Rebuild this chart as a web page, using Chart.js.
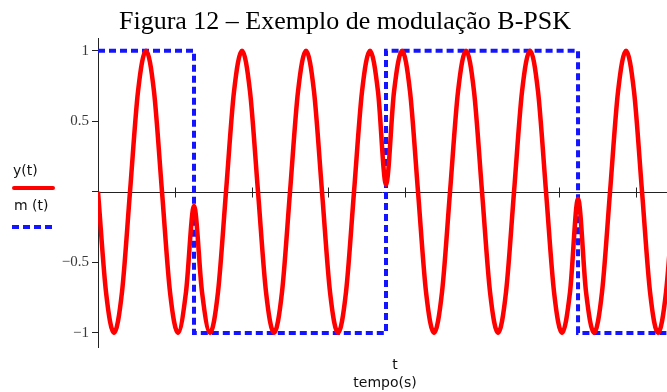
<!DOCTYPE html>
<html>
<head>
<meta charset="utf-8">
<script src="https://cdn.jsdelivr.net/npm/chart.js@4/dist/chart.umd.min.js"></script>
<style>
  html, body { margin: 0; padding: 0; background: #ffffff; }
  #wrap { width: 667px; height: 392px; position: relative; }
  canvas { display: block; }
</style>
</head>
<body>
<div id="wrap"><canvas id="grafico" width="667" height="392"></canvas></div>
<script>
// Tempo em períodos da portadora (amostras a cada 1/8 de período)
const tempo = [
  0.000, 0.125, 0.250, 0.375, 0.500, 0.625, 0.750, 0.875,
  1.000, 1.125, 1.250, 1.375, 1.500, 1.625, 1.750, 1.875,
  2.000, 2.125, 2.250, 2.375, 2.500, 2.625, 2.750, 2.875,
  3.000, 3.125, 3.250, 3.375, 3.500, 3.625, 3.750, 3.875,
  4.000, 4.125, 4.250, 4.375, 4.500, 4.625, 4.750, 4.875,
  5.000, 5.125, 5.250, 5.375, 5.500, 5.625, 5.750, 5.875,
  6.000, 6.125, 6.250, 6.375, 6.500, 6.625, 6.750, 6.875,
  7.000, 7.125, 7.250, 7.375, 7.500, 7.625, 7.750, 7.875,
  8.000, 8.125, 8.250, 8.375, 8.500, 8.625, 8.750, 8.875,
  9.000
];

// Sinal modulado y(t)
const sinalY = [
  0, -0.71, -1, -0.71, 0, 0.71, 1, 0.71,
  0, -0.71, -1, -0.71, -0.1, -0.71, -1, -0.71,
  0, 0.71, 1, 0.71, 0, -0.71, -1, -0.71,
  0, 0.71, 1, 0.71, 0, -0.71, -1, -0.71,
  0, 0.71, 1, 0.71, 0.05, 0.71, 1, 0.71,
  0, -0.71, -1, -0.71, 0, 0.71, 1, 0.71,
  0, -0.71, -1, -0.71, 0, 0.71, 1, 0.71,
  0, -0.71, -1, -0.71, -0.05, -0.71, -1, -0.71,
  0, 0.71, 1, 0.71, 0, -0.71, -1, -0.71,
  0
];

// Sinal binário m(t): instantes de transição e níveis
const tempoM = [0, 1.5, 4.5, 7.5, 9.0];
const sinalM = [1, -1, 1, -1, -1];

// Marcas dos eixos
const marcasX = [1.2, 2.4, 3.6, 4.8, 6.0, 7.2, 8.4];
const marcasY = [-1, -0.5, 0, 0.5, 1];
const rotulosY = ['\u22121', '\u22120.5', '', '0.5', '1'];

const limitesX = [0, 8.89];
const limitesY = [-1.1, 1.09];

const titulo = 'Figura 12 \u2013 Exemplo de modulação B-PSK';
const tituloEixoX = ['t', 'tempo(s)'];
const nomesSeries = ['y(t)', 'm (t)'];

const corY = '#ff0000';
const corM = '#1414ff';
const corEixo = '#222222';

const pontosY = tempo.map((t, i) => ({ x: t, y: sinalY[i] }));
const pontosM = tempoM.map((t, i) => ({ x: t, y: sinalM[i] }));

// Eixo horizontal em y = 0 com marcas cruzando a linha
const eixoZero = {
  id: 'eixoZero',
  beforeDatasetsDraw(chart) {
    const { ctx, chartArea, scales } = chart;
    const y0 = Math.round(scales.y.getPixelForValue(0)) + 0.5;
    ctx.save();
    ctx.strokeStyle = corEixo;
    ctx.lineWidth = 1;
    ctx.beginPath();
    ctx.moveTo(chartArea.left, y0);
    ctx.lineTo(chartArea.right, y0);
    marcasX.forEach(v => {
      const x = Math.round(scales.x.getPixelForValue(v)) + 0.5;
      ctx.moveTo(x, y0 - 5);
      ctx.lineTo(x, y0 + 5);
    });
    ctx.stroke();
    ctx.restore();
  }
};

// Título, legenda e nome do eixo horizontal
const anotacoes = {
  id: 'anotacoes',
  afterDraw(chart) {
    const { ctx } = chart;
    const ds = chart.data.datasets;
    ctx.save();
    ctx.fillStyle = '#000000';
    ctx.font = '26px "Liberation Serif", "Times New Roman", serif';
    ctx.textAlign = 'center';
    ctx.textBaseline = 'alphabetic';
    ctx.fillText(titulo, 345, 29);

    ctx.font = '14px "DejaVu Sans", Arial, sans-serif';
    ctx.fillStyle = '#111111';
    ctx.textAlign = 'left';
    ctx.textBaseline = 'middle';
    ctx.fillText(nomesSeries[0], 13, 171);
    ctx.fillText(nomesSeries[1], 14, 206);

    ctx.lineCap = 'round';
    ctx.strokeStyle = ds[0].borderColor;
    ctx.lineWidth = 4;
    ctx.beginPath();
    ctx.moveTo(14, 188);
    ctx.lineTo(53, 188);
    ctx.stroke();

    ctx.lineCap = 'butt';
    ctx.strokeStyle = ds[1].borderColor;
    ctx.setLineDash(ds[1].borderDash);
    ctx.beginPath();
    ctx.moveTo(12, 227);
    ctx.lineTo(52, 227);
    ctx.stroke();
    ctx.setLineDash([]);

    ctx.textAlign = 'center';
    ctx.fillText(tituloEixoX[0], 395, 365);
    ctx.fillText(tituloEixoX[1], 385, 383);
    ctx.restore();
  }
};

new Chart(document.getElementById('grafico'), {
  type: 'line',
  data: {
    datasets: [
      {
        label: nomesSeries[0],
        data: pontosY,
        borderColor: corY,
        borderWidth: 4.5,
        pointRadius: 0,
        cubicInterpolationMode: 'monotone',
        fill: false
      },
      {
        label: nomesSeries[1],
        data: pontosM,
        borderColor: corM,
        borderWidth: 4,
        borderDash: [7, 4],
        pointRadius: 0,
        stepped: 'before',
        fill: false
      }
    ]
  },
  options: {
    responsive: false,
    animation: false,
    devicePixelRatio: 1,
    layout: { padding: { top: 38, bottom: 45, left: 0, right: 0 } },
    plugins: {
      legend: { display: false },
      title: { display: false },
      tooltip: { enabled: false }
    },
    scales: {
      x: {
        type: 'linear',
        min: limitesX[0],
        max: limitesX[1],
        display: false
      },
      y: {
        type: 'linear',
        min: limitesY[0],
        max: limitesY[1],
        afterFit(scale) { scale.width = 98; },
        afterBuildTicks(scale) { scale.ticks = marcasY.map(v => ({ value: v })); },
        ticks: {
          padding: 3,
          color: '#3a3a3a',
          font: { family: '"Liberation Serif", "Times New Roman", serif', size: 15 },
          callback(value) {
            const i = marcasY.indexOf(value);
            return i >= 0 ? rotulosY[i] : '';
          }
        },
        grid: {
          drawOnChartArea: false,
          drawTicks: true,
          tickLength: 6,
          color: corEixo,
          lineWidth: 1
        },
        border: { display: true, color: corEixo, width: 1 }
      }
    }
  },
  plugins: [eixoZero, anotacoes]
});
</script>
</body>
</html>
